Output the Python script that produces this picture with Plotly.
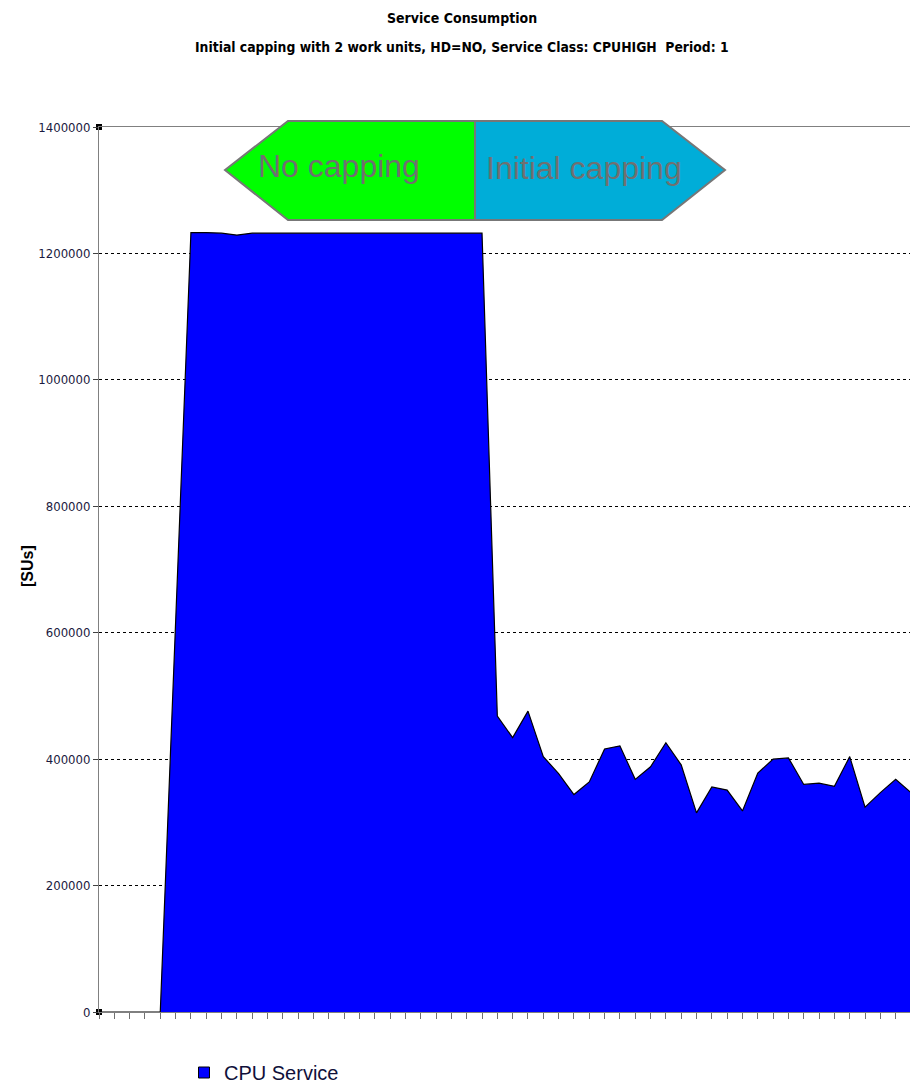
import plotly.graph_objects as go

# ---- data ----
intervals = list(range(54))
cpu_service = [
    0, 0, 0, 0, 0, 616000, 1233000, 1233000, 1232000, 1229000,
    1232000, 1232000, 1232000, 1232000, 1232000, 1232000, 1232000, 1232000, 1232000, 1232000,
    1232000, 1232000, 1232000, 1232000, 1232000, 1232000,
    468000, 434000, 476000, 404000, 377000, 344000, 364000, 416000, 421000, 368000,
    388000, 426000, 391000, 315000, 356000, 351000, 318000, 378000, 400000, 402000,
    360000, 362000, 357000, 404000, 324000, 347000, 368000, 347000,
]
y_ticks = [0, 200000, 400000, 600000, 800000, 1000000, 1200000, 1400000]
series_name = "CPU Service"
title_main = "Service Consumption"
title_sub = "Initial capping with 2 work units, HD=NO, Service Class: CPUHIGH  Period: 1"
y_title = "[SUs]"
phase_labels = ["No capping", "Initial capping"]

# page offset from default body margin
OFF = 8
W, H = 918 - OFF, 1087 - OFF
L, R, T, B = 99, 911, 127, 1012  # plot area in screen pixels


def px(x):
    return (x - L) / (R - L)


def py(y):
    return (B - y) / (B - T)


NARROW = "DejaVu Sans Condensed, Liberation Sans Narrow, sans-serif"
ARIAL = "Liberation Sans, Arial, sans-serif"

fig = go.Figure()
fig.add_trace(go.Scatter(
    x=intervals, y=cpu_service, mode="lines", fill="tozeroy",
    fillcolor="#0000FF", line=dict(color="black", width=1.2),
    showlegend=False, hoverinfo="skip",
))
# legend entry
fig.add_trace(go.Scatter(
    x=[None], y=[None], mode="markers", name=series_name,
    marker=dict(symbol="square", size=11, color="#0000FF",
                line=dict(color="black", width=1)),
))
# corner handles
fig.add_trace(go.Scatter(
    x=[0, 0], y=[y_ticks[0], y_ticks[-1]], mode="markers",
    marker=dict(symbol="square", size=6, color="black"),
    showlegend=False, hoverinfo="skip", cliponaxis=False,
))

fig.update_layout(
    width=W, height=H,
    margin=dict(l=L - OFF, r=W - (R - OFF), t=T - OFF, b=H - (B - OFF), autoexpand=False),
    paper_bgcolor="white", plot_bgcolor="white",
    font=dict(family=ARIAL, color="black"),
    showlegend=True,
    legend=dict(x=px(184), y=py(1053), xanchor="left", yanchor="top",
                font=dict(family=ARIAL, size=20, color="#10103a"),
                itemwidth=30, bgcolor="rgba(0,0,0,0)"),
    xaxis=dict(range=[intervals[0], intervals[-1]], tickmode="linear", tick0=0, dtick=1,
               showticklabels=False, ticks="outside", ticklen=6, tickcolor="#707070",
               showgrid=False, zeroline=False, showline=True, linecolor="#808080",
               linewidth=1, mirror=True),
    yaxis=dict(range=[y_ticks[0], y_ticks[-1]], tickvals=y_ticks,
               ticktext=[str(v) for v in y_ticks],
               ticks="outside", ticklen=5, tickcolor="#404040",
               tickfont=dict(family=NARROW, size=13, color="#1a1a40"),
               showgrid=True, gridcolor="black", griddash="dot", gridwidth=1,
               zeroline=False, showline=True, linecolor="#808080", linewidth=1,
               mirror=True),
)

# titles
fig.add_annotation(text="<b>%s</b>" % title_main, x=px(462), y=py(18), xref="paper", yref="paper",
                   showarrow=False, font=dict(family=NARROW, size=14, color="black"),
                   xanchor="center", yanchor="middle")
fig.add_annotation(text="<b>%s</b>" % title_sub, x=px(462), y=py(47), xref="paper", yref="paper",
                   showarrow=False, font=dict(family=NARROW, size=13.8, color="black"),
                   xanchor="center", yanchor="middle")
fig.add_annotation(text="<b>%s</b>" % y_title, x=px(27), y=py(566), xref="paper", yref="paper",
                   showarrow=False, textangle=-90, font=dict(family=ARIAL, size=16, color="black"),
                   xanchor="center", yanchor="middle")

# phase arrows
def poly(points):
    d = "M " + " L ".join("%f,%f" % (px(a), py(b)) for a, b in points) + " Z"
    return d

fig.add_shape(type="path", xref="paper", yref="paper",
              path=poly([(225, 170), (288, 121), (475, 121), (475, 220), (288, 220)]),
              fillcolor="#00FF00", line=dict(color="#777777", width=2), layer="above")
fig.add_shape(type="path", xref="paper", yref="paper",
              path=poly([(475, 121), (662, 121), (725, 170), (662, 220), (475, 220)]),
              fillcolor="#00ADD8", line=dict(color="#777777", width=2), layer="above")
fig.add_annotation(text=phase_labels[0], x=px(339), y=py(166), xref="paper", yref="paper",
                   showarrow=False, font=dict(family=ARIAL, size=32, color="#707070"),
                   xanchor="center", yanchor="middle")
fig.add_annotation(text=phase_labels[1], x=px(584), y=py(168), xref="paper", yref="paper",
                   showarrow=False, font=dict(family=ARIAL, size=32, color="#707070"),
                   xanchor="center", yanchor="middle")

# right-edge artifact line
fig.add_shape(type="line", xref="paper", yref="paper",
              x0=px(915.5), x1=px(915.5), y0=py(129), y1=py(1016),
              line=dict(color="black", width=1.5))

fig.write_html("out.html")
